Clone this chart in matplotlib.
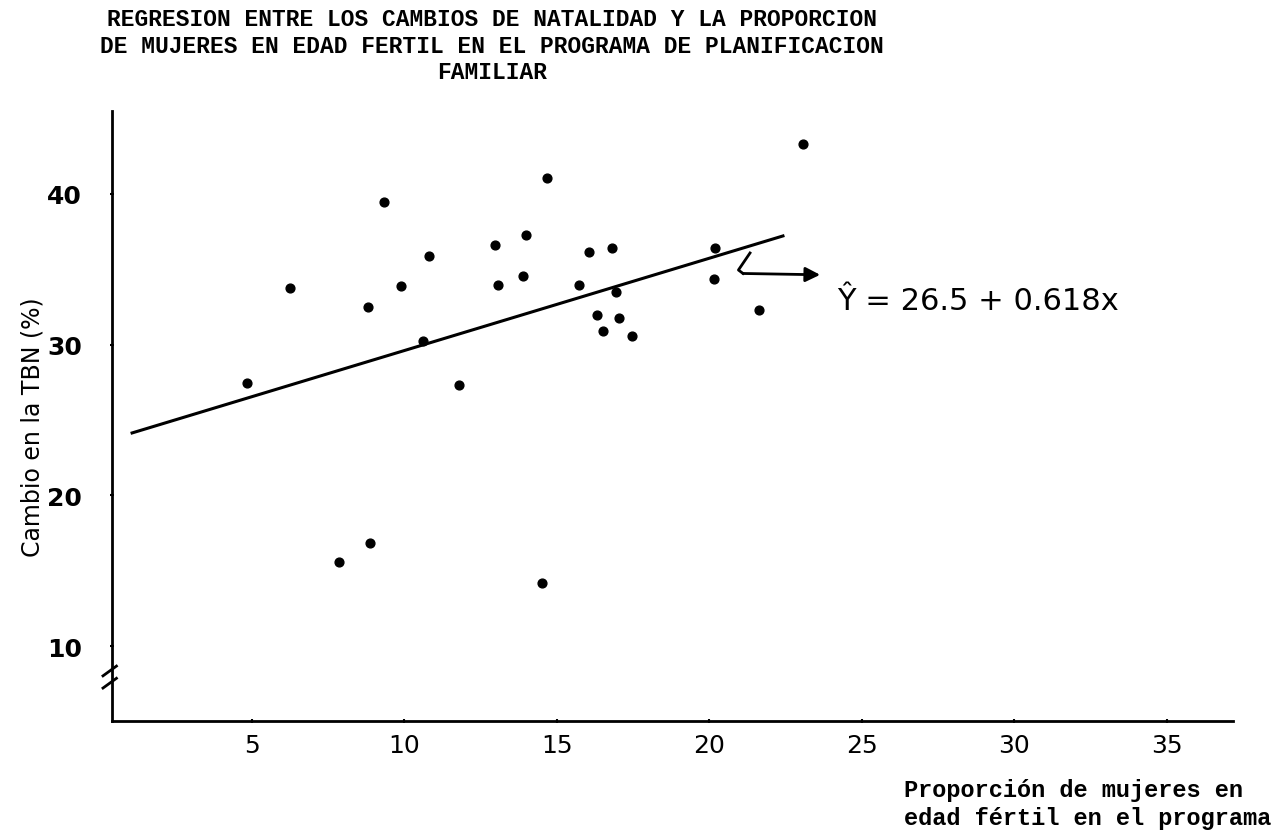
import matplotlib
matplotlib.use("Agg")
import matplotlib.pyplot as plt

# values
prop_mujeres = [9.34, 6.25, 4.83, 8.81, 9.89, 10.80, 12.96, 13.98, 13.06, 13.90,
                10.62, 11.80, 14.66, 23.06, 16.05, 16.81, 15.73, 16.93, 20.18, 20.16,
                16.32, 17.03, 16.52, 17.45, 21.63, 7.85, 8.87, 14.51]
cambio_tbn = [39.49, 33.74, 27.46, 32.48, 33.88, 35.87, 36.64, 37.28, 33.98, 34.54,
              30.23, 27.35, 41.06, 43.32, 36.17, 36.42, 33.96, 33.48, 36.40, 34.36,
              31.99, 31.75, 30.89, 30.56, 32.32, 15.58, 16.84, 14.19]

# regression line as drawn by hand
line_x = [1.07, 22.41]
line_y = [24.14, 37.21]

# hook + arrow pointing to the equation
hook_x = [21.33, 20.95, 21.1]
hook_y = [36.08, 34.95, 34.72]
arrow_end = (23.72, 34.63)

x_ticks = [5, 10, 15, 20, 25, 30, 35]
y_ticks = [10, 20, 30, 40]

title = ("REGRESION ENTRE LOS CAMBIOS DE NATALIDAD Y LA PROPORCION\n"
         "DE MUJERES EN EDAD FERTIL EN EL PROGRAMA DE PLANIFICACION\n"
         "FAMILIAR")
xlabel = "Proporción de mujeres en\nedad fértil en el programa"
ylabel = "Cambio en la TBN (%)"
equation = "Ŷ = 26.5 + 0.618x"

fig = plt.figure(figsize=(12.81, 8.37), dpi=100)
ax = fig.add_axes([0.0874, 0.1374, 0.875, 0.7288])

ax.scatter(prop_mujeres, cambio_tbn, s=40, color="black", zorder=3)
ax.plot(line_x, line_y, color="black", lw=2.2)

ax.plot(hook_x, hook_y, color="black", lw=2, solid_joinstyle="round")
ax.annotate("", xy=arrow_end, xytext=(hook_x[-1], hook_y[-1]),
            arrowprops=dict(arrowstyle="-|>", color="black", lw=2,
                            mutation_scale=22, shrinkA=0))
ax.text(24.2, 32.9, equation, fontsize=22, family="DejaVu Sans",
        va="center", ha="left")

ax.set_xlim(0.41, 37.16)
ax.set_ylim(5.03, 45.5)

for side in ["top", "right"]:
    ax.spines[side].set_visible(False)
for side in ["left", "bottom"]:
    ax.spines[side].set_linewidth(2)

ax.set_xticks(x_ticks)
ax.set_xticklabels([str(t) for t in x_ticks], fontsize=18)
ax.set_yticks(y_ticks)
ax.set_yticklabels([str(t) for t in y_ticks], fontsize=18, fontweight="bold")
ax.tick_params(axis="x", length=3, width=1.5, direction="inout", pad=7)
ax.tick_params(axis="y", length=3, width=1.5, direction="inout", pad=20)

# axis break marks on the y axis
for yb in [0.062, 0.082]:
    ax.plot([-0.008, 0.004], [yb - 0.008, yb + 0.008], transform=ax.transAxes,
            color="black", lw=2, clip_on=False)

fig.text(0.025, 0.49, ylabel, rotation=90, fontsize=17, va="center", ha="center")
fig.text(0.706, 0.039, xlabel, fontsize=17, family="Liberation Mono",
         fontweight="bold", ha="left", va="center", linespacing=1.3)
fig.text(0.384, 0.945, title, fontsize=16.5, family="Liberation Mono",
         fontweight="bold", ha="center", va="center", linespacing=1.2)

fig.savefig("out.png", dpi=100)
